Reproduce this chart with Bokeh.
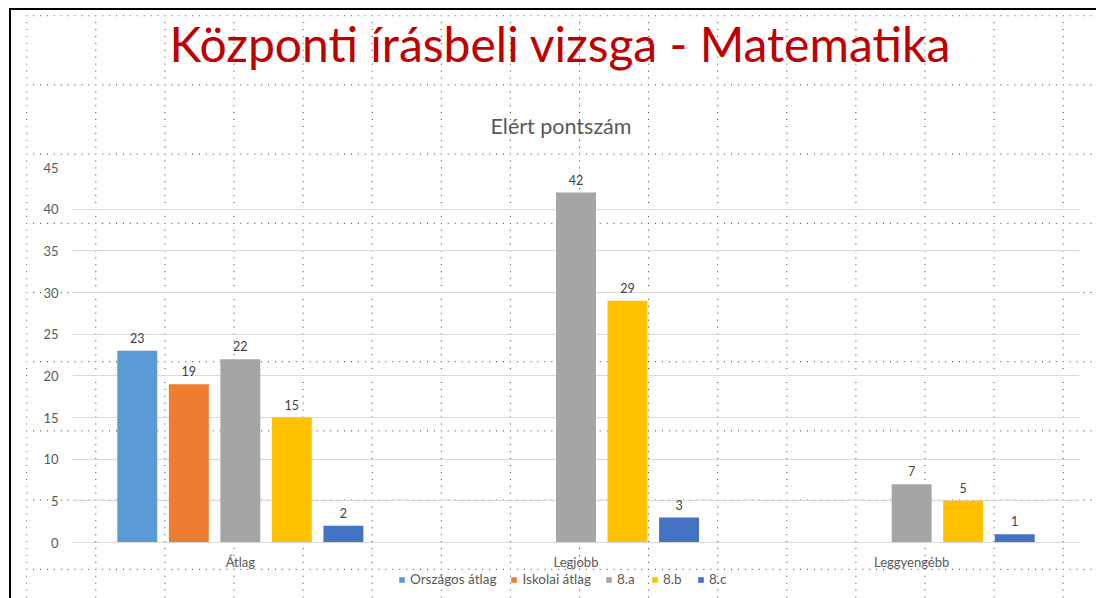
from bokeh.plotting import figure
from bokeh.models import (FactorRange, Range1d, Title, Legend, LegendItem,
                          ColumnDataSource, FixedTicker)
from bokeh.transform import dodge
from bokeh.core.properties import value
from bokeh.embed import file_html
from bokeh.resources import INLINE

# ---------------- data ----------------
categories = ["Átlag", "Legjobb", "Leggyengébb"]
series_names = ["Országos átlag", "Iskolai átlag", "8.a", "8.b", "8.c"]
orszagos_atlag = [23, None, None]
iskolai_atlag = [19, None, None]
osztaly_8a = [22, 42, 7]
osztaly_8b = [15, 29, 5]
osztaly_8c = [2, 3, 1]
y_ticks = [0, 5, 10, 15, 20, 25, 30, 35, 40, 45]

series_values = [orszagos_atlag, iskolai_atlag, osztaly_8a, osztaly_8b, osztaly_8c]
colors = ["#5B9BD5", "#ED7D31", "#A5A5A5", "#FFC000", "#4472C4"]
offsets = [-0.307, -0.1534, 0.0, 0.1534, 0.307]

FONT = "Lato"
GRAY = "#595959"

# layout geometry (pixels)
W, H = 1096, 598
FRAME_TOP, ZERO_Y = 167, 542
Y_MAX = 45
px_per_unit = (ZERO_Y - FRAME_TOP) / Y_MAX
y_start = -(H - ZERO_Y) / px_per_unit   # frame reaches page bottom; legend lives there

p = figure(x_range=FactorRange(*categories), y_range=Range1d(y_start, Y_MAX),
           width=W, height=H, output_backend="svg", toolbar_location=None,
           min_border_left=72, min_border_right=17, min_border_top=FRAME_TOP,
           min_border_bottom=0)

p.background_fill_color = None
p.border_fill_color = None
p.outline_line_color = None

# slide-editor dotted guides and window edge (page decoration, CSS background)
deco_svg = (
    f"<svg xmlns='http://www.w3.org/2000/svg' width='{W}' height='{H}'>"
    "<defs><pattern id='g' x='26.2' y='15.2' width='69.1' height='69.2' patternUnits='userSpaceOnUse'>"
    "<line x1='0.5' y1='0' x2='0.5' y2='69.2' stroke='%23333333' stroke-width='1' stroke-dasharray='1 5.91'/>"
    "<line x1='0' y1='0.5' x2='69.1' y2='0.5' stroke='%23333333' stroke-width='1' stroke-dasharray='1 5.91'/>"
    "</pattern></defs>"
    f"<rect x='26.2' y='15.2' width='{W}' height='{H}' fill='url(%23g)'/>"
    f"<rect x='9' y='8' width='2' height='{H}' fill='%23000000'/>"
    f"<rect x='9' y='8' width='{W}' height='2' fill='%23000000'/>"
    "</svg>")
p.styles = {
    "background-image": f'url("data:image/svg+xml;utf8,{deco_svg}")',
    "background-repeat": "no-repeat",
    "background-position": "0 0",
}

items = []
for name, vals, color, off in zip(series_names, series_values, colors, offsets):
    cats = [c for c, v in zip(categories, vals) if v is not None]
    vs = [v for v in vals if v is not None]
    src = ColumnDataSource(dict(cat=cats, val=vs, lab=[str(v) for v in vs]))
    r = p.vbar(x=dodge("cat", off, range=p.x_range), top="val", bottom=0,
               width=0.119, source=src, fill_color=color, line_color=None)
    p.text(x=dodge("cat", off, range=p.x_range), y="val", text="lab", source=src,
           y_offset=-8, text_align="center", text_baseline="bottom",
           text_font=value(FONT), text_font_size="12.5px", text_color="#404040")
    items.append(LegendItem(label=name, renderers=[r]))

# grid / axes
p.xgrid.grid_line_color = None
p.ygrid.grid_line_color = "#D9D9D9"
p.ygrid.ticker = FixedTicker(ticks=y_ticks)
p.yaxis.ticker = FixedTicker(ticks=y_ticks)
p.yaxis.axis_line_color = None
p.yaxis.major_tick_line_color = None
p.yaxis.minor_tick_line_color = None
p.yaxis.major_label_standoff = 8
p.yaxis.major_label_text_font = FONT
p.yaxis.major_label_text_font_size = "13px"
p.yaxis.major_label_text_color = GRAY

p.xaxis.fixed_location = 0
p.xaxis.axis_line_color = "#D9D9D9"
p.xaxis.major_tick_line_color = None
p.xaxis.minor_tick_line_color = None
p.xaxis.major_label_standoff = 5
p.xaxis.major_label_text_font = FONT
p.xaxis.major_label_text_font_size = "13px"
p.xaxis.major_label_text_color = GRAY

legend = Legend(items=items, orientation="horizontal", location=(326, 11),
                border_line_color=None, background_fill_alpha=0,
                padding=0, margin=0, spacing=14, label_standoff=5,
                glyph_width=7, glyph_height=7, label_height=14,
                label_text_font=FONT, label_text_font_size="13.5px",
                label_text_color=GRAY)
p.add_layout(legend, "center")

# titles (first added is closest to the frame)
p.add_layout(Title(text="Elért pontszám", align="left", offset=418, text_font=FONT,
                   text_font_size="21.5px", text_font_style="normal",
                   text_color=GRAY, standoff=57), "above")
p.add_layout(Title(text="Központi írásbeli vizsga - Matematika", align="left",
                   offset=97, text_font=FONT, text_font_size="48px",
                   text_font_style="normal", text_color="#C00000",
                   standoff=21), "above")

open("out.html", "w").write(file_html(p, INLINE))
